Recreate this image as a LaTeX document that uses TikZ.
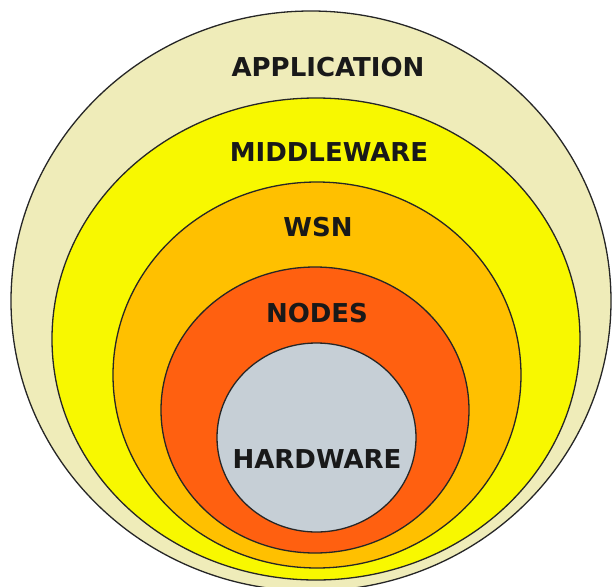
\documentclass[tikz,border=0pt]{standalone}
\usepackage{fontspec}
\setmainfont{DejaVu Sans}
\definecolor{appc}{HTML}{EFECB9}
\definecolor{midc}{HTML}{F8F800}
\definecolor{wsnc}{HTML}{FFC000}
\definecolor{nodc}{HTML}{FF6010}
\definecolor{hwc}{HTML}{C6CFD6}
\begin{document}
\begin{tikzpicture}[x=1pt,y=-1pt]
\tikzset{
  ring/.style={draw=black!85,line width=1.3pt},
  lbl/.style={font=\fontsize{26}{26}\selectfont\bfseries, text=black!90, inner sep=0pt}
}
\useasboundingbox (0,0) rectangle (614,587);
\clip (0,0) rectangle (614,587);
\fill[white] (0,0) rectangle (614,587);
\path[ring, fill=appc] (311,301) ellipse [x radius=300, y radius=290];
\path[ring, fill=midc] (316,339) ellipse [x radius=264, y radius=241];
\path[ring, fill=wsnc] (317,375) ellipse [x radius=204, y radius=193];
\path[ring, fill=nodc] (315,410) ellipse [x radius=154, y radius=143];
\path[ring, fill=hwc] (316.5,437.5) ellipse [x radius=99.5, y radius=94.5];
\node[lbl] (app) at (328,67.5) {APPLICATION};
\node[lbl] (mid) at (329,151.7) {MIDDLEWARE};
\node[lbl] (wsn) at (318,226.7) {WSN};
\node[lbl] (nod) at (317,313.5) {NODES};
\node[lbl] (hw) at (317,459) {HARDWARE};
\end{tikzpicture}
\end{document}
